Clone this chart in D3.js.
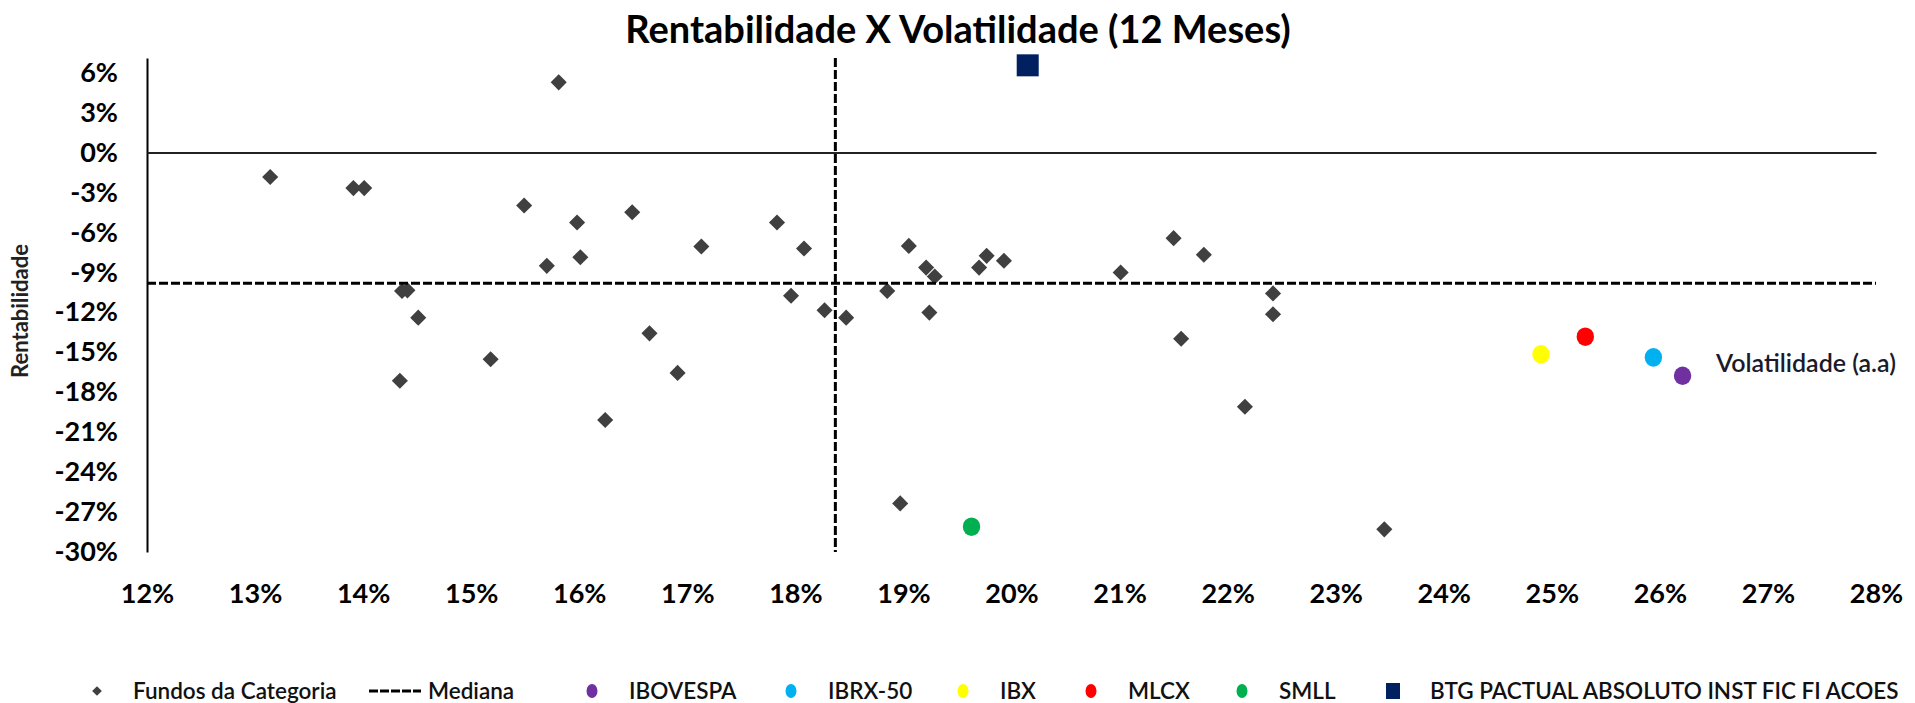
<!DOCTYPE html>
<html>
<head>
<meta charset="utf-8">
<script src="https://cdn.jsdelivr.net/npm/d3@7"></script>
<style>
  body { margin: 0; background: #fff; }
  svg { display: block; font-family: Lato, 'Open Sans', sans-serif; }
</style>
</head>
<body>
<svg id="chart"></svg>
<script>
// fundos da categoria: volatilidade (x) e rentabilidade (y), em %
const fundVol = [13.14, 13.91, 14.01, 14.36, 14.41, 14.51, 14.34, 15.18, 15.49, 15.70,
                 15.81, 15.98, 16.01, 16.24, 16.49, 16.65, 16.91, 17.13, 17.83, 17.96,
                 18.08, 18.27, 18.47, 18.85, 18.97, 19.05, 19.21, 19.24, 19.29, 19.70,
                 19.77, 19.93, 21.01, 21.50, 21.57, 21.78, 22.16, 22.42, 22.42, 23.45];
const fundRet = [-1.84, -2.67, -2.67, -10.4, -10.35, -12.4, -17.14, -15.53, -3.98, -8.51,
                 5.27, -5.26, -7.86, -20.09, -4.49, -13.58, -16.55, -7.06, -5.26, -10.76,
                 -7.21, -11.84, -12.4, -10.39, -26.35, -7.01, -8.64, -12.02, -9.31, -8.64,
                 -7.76, -8.13, -9.01, -6.43, -13.98, -7.68, -19.09, -10.58, -12.14, -28.3];

const benchNames = ['IBOVESPA', 'IBRX-50', 'IBX', 'MLCX', 'SMLL'];
const benchVol = [26.21, 25.94, 24.90, 25.31, 19.63];
const benchRet = [-16.76, -15.38, -15.15, -13.83, -28.1];
const benchColors = ['#7030A0', '#00B0F0', '#FFFF00', '#FF0000', '#00B050'];

const fundName = 'BTG PACTUAL ABSOLUTO INST FIC FI ACOES';
const fundPoint = [20.15, 6.55];

const medianVol = 18.37;
const medianRet = -9.81;

const xTicks = [12, 13, 14, 15, 16, 17, 18, 19, 20, 21, 22, 23, 24, 25, 26, 27, 28];
const yTicks = [-30, -27, -24, -21, -18, -15, -12, -9, -6, -3, 0, 3, 6];

const width = 1915;
const height = 703;

const svg = d3.select('#chart')
  .attr('width', width)
  .attr('height', height);

const x = d3.scaleLinear().domain([12, 28]).range([147, 1876]);
const y = d3.scaleLinear().domain([-30, 7.1]).range([552, 58]);

// title
svg.append('text')
  .attr('x', 958)
  .attr('y', 43)
  .attr('text-anchor', 'middle')
  .style('font-size', '38px')
  .style('font-weight', 'bold')
  .style('fill', '#000')
  .text('Rentabilidade X Volatilidade (12 Meses)');

// y axis
const yAxis = svg.append('g')
  .attr('transform', 'translate(' + x(12) + ',0)')
  .call(d3.axisLeft(y).tickValues(yTicks).tickSize(0).tickPadding(29).tickFormat(d => d + '%'));
yAxis.select('.domain').attr('stroke', '#000').attr('stroke-width', 2);
yAxis.selectAll('text')
  .style('font-size', '27px')
  .style('font-weight', 'bold')
  .style('font-family', 'Lato, sans-serif')
  .attr('fill', '#000');

// zero line (x axis crossing)
const zeroAxis = svg.append('g')
  .attr('transform', 'translate(0,' + y(0) + ')')
  .call(d3.axisBottom(x).tickValues([]).tickSize(0));
zeroAxis.select('.domain').attr('stroke', '#222').attr('stroke-width', 2);

// x tick labels (low position)
const xAxis = svg.append('g')
  .attr('transform', 'translate(0,603)')
  .call(d3.axisBottom(x).tickValues(xTicks).tickSize(0).tickFormat(d => d + '%'));
xAxis.select('.domain').remove();
xAxis.selectAll('text')
  .attr('y', 0)
  .attr('dy', 0)
  .style('font-size', '27px')
  .style('font-weight', 'bold')
  .style('font-family', 'Lato, sans-serif')
  .attr('fill', '#000');

// y label
svg.append('text')
  .attr('transform', 'translate(28,311) rotate(-90)')
  .attr('text-anchor', 'middle')
  .style('font-size', '22px')
  .style('font-weight', 'bold')
  .style('fill', '#222')
  .text('Rentabilidade');

// fundos
const diamond = d3.symbol().type(d3.symbolDiamond2).size(165);
svg.append('g')
  .selectAll('path')
  .data(fundVol.map((v, i) => [v, fundRet[i]]))
  .enter()
  .append('path')
  .attr('d', diamond)
  .attr('transform', d => 'translate(' + x(d[0]) + ',' + y(d[1]) + ')')
  .attr('fill', '#404040');

// medianas
svg.append('line')
  .attr('x1', x(12)).attr('x2', x(28))
  .attr('y1', y(medianRet)).attr('y2', y(medianRet))
  .attr('stroke', '#000').attr('stroke-width', 3).attr('stroke-dasharray', '9,3');
svg.append('line')
  .attr('x1', x(medianVol)).attr('x2', x(medianVol))
  .attr('y1', y(7.1)).attr('y2', y(-30))
  .attr('stroke', '#000').attr('stroke-width', 3).attr('stroke-dasharray', '9,3');

// indices
svg.append('g')
  .selectAll('ellipse')
  .data(benchNames)
  .enter()
  .append('ellipse')
  .attr('cx', (d, i) => x(benchVol[i]))
  .attr('cy', (d, i) => y(benchRet[i]))
  .attr('rx', 8.7)
  .attr('ry', 9.3)
  .attr('fill', (d, i) => benchColors[i]);

// fundo
svg.append('rect')
  .attr('x', x(fundPoint[0]) - 11)
  .attr('y', y(fundPoint[1]) - 11)
  .attr('width', 22)
  .attr('height', 22)
  .attr('fill', '#002060');

svg.append('text')
  .attr('x', 1716)
  .attr('y', 372)
  .style('font-size', '25px')
  .style('font-weight', '600')
  .style('fill', '#1a1a2a')
  .text('Volatilidade (a.a)');

// legend
const legendY = 691;
const legend = svg.append('g')
  .style('font-size', '22.5px')
  .style('font-weight', '600')
  .style('fill', '#111');

legend.append('path')
  .attr('d', d3.symbol().type(d3.symbolDiamond2).size(60))
  .attr('transform', 'translate(97,' + legendY + ')')
  .attr('fill', '#404040');
legend.append('text').attr('x', 133).attr('y', legendY + 8).text('Fundos da Categoria');

legend.append('line')
  .attr('x1', 369).attr('x2', 421)
  .attr('y1', legendY).attr('y2', legendY)
  .attr('stroke', '#000').attr('stroke-width', 3).attr('stroke-dasharray', '9,2');
legend.append('text').attr('x', 428).attr('y', legendY + 8).text('Mediana');

const benchLegendX = [592, 791, 963, 1091, 1242];
benchNames.forEach((name, i) => {
  legend.append('ellipse')
    .attr('cx', benchLegendX[i]).attr('cy', legendY)
    .attr('rx', 5.5).attr('ry', 7)
    .attr('fill', benchColors[i]);
  legend.append('text').attr('x', benchLegendX[i] + 37).attr('y', legendY + 8).text(name);
});

legend.append('rect')
  .attr('x', 1386).attr('y', legendY - 8)
  .attr('width', 14).attr('height', 16)
  .attr('fill', '#002060');
legend.append('text').attr('x', 1430).attr('y', legendY + 8).text(fundName);
</script>
</body>
</html>
